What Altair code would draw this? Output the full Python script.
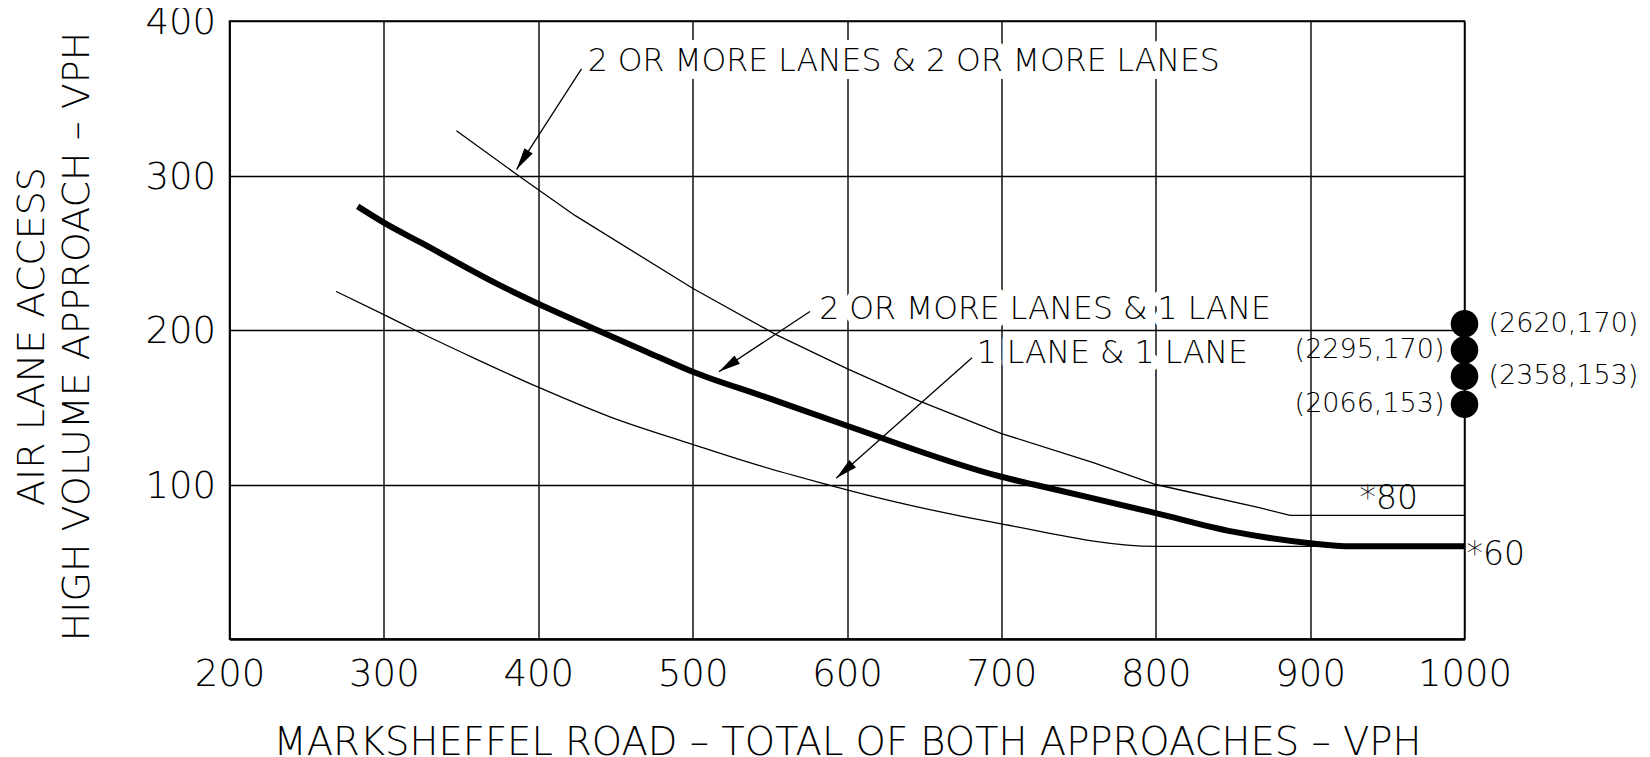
import math
import altair as alt
import pandas as pd

FONT = "DejaVu Sans"
FW = 200

# ---- curves ----
top_x = [347, 387, 424, 500, 554, 600, 647, 700, 760, 800, 867, 887, 1000]
top_y = [329, 300, 274, 227, 197, 175, 154, 133, 114, 100, 85, 80, 80]

mid_x = [283, 300, 325, 373, 400, 438, 470, 500, 546, 600, 700, 721, 800, 850, 900, 926, 1000]
mid_y = [280, 269.5, 256, 230, 217, 200, 186, 173, 157, 138, 105, 100, 81.5, 69.5, 62, 60, 60]

low_x = [269, 300, 320, 358, 400, 446, 500, 544, 587, 600, 700, 800, 1000]
low_y = [225, 210, 200, 182, 163, 144, 126, 112, 100, 96.5, 74.5, 60, 60]

# ---- annotations ----
ann_text = ["2 OR MORE LANES & 2 OR MORE LANES", "2 OR MORE LANES & 1 LANE", "1 LANE & 1 LANE"]
ann_x = [432, 582, 684]
ann_y = [373.5, 213, 184.5]
lead_x = [428, 576, 681]
lead_y = [369, 212, 182]
tip_x = [386, 517, 593]
tip_y = [304, 173, 104]

dot_y = [204, 187, 170, 152]
dot_text = ["(2620,170)", "(2295,170)", "(2358,153)", "(2066,153)"]
dot_side = ["right", "left", "right", "left"]

min_text = ["*80", "*60"]
min_x = [951, 1000]
min_y = [90.5, 54.5]

x_ticks = [200, 300, 400, 500, 600, 700, 800, 900, 1000]
y_ticks = [100, 200, 300, 400]

W, H = 1235, 618
sx = W / 800.0
sy = H / 400.0

top_df = pd.DataFrame({"x": top_x, "y": top_y})
low_df = pd.DataFrame({"x": low_x, "y": low_y})
thick = pd.DataFrame({"x": mid_x, "y": mid_y})

angles = []
for x0, y0, x1, y1 in zip(lead_x, lead_y, tip_x, tip_y):
    dx = (x1 - x0) * sx
    dy = -(y1 - y0) * sy
    angles.append(math.degrees(math.atan2(dx, -dy)) % 360)

ann = pd.DataFrame({"t": ann_text, "x": ann_x, "y": ann_y})
leads = pd.DataFrame({"x": lead_x, "y": lead_y, "x2": tip_x, "y2": tip_y, "ang": angles})
dots = pd.DataFrame({"x": [1000] * 4, "y": dot_y, "t": dot_text, "side": dot_side})
mins = pd.DataFrame({"x": min_x, "y": min_y, "t": min_text})

xs = alt.Scale(domain=[200, 1000], nice=False, zero=False)
ys = alt.Scale(domain=[0, 400], nice=False, zero=False)

x_axis = alt.Axis(
    values=x_ticks, format="d", grid=True, gridColor="black", gridWidth=1.4, gridOpacity=1,
    ticks=False, domain=True, domainColor="black", domainWidth=2.5,
    labelFont=FONT, labelFontSize=37, labelFontWeight=FW, labelColor="black", labelPadding=17,
    labelFlush=False, labelOverlap=False, labelBound=False,
    title="MARKSHEFFEL ROAD – TOTAL OF BOTH APPROACHES – VPH",
    titleFont=FONT, titleFontSize=38.5, titleFontWeight=FW, titleColor="black",
    titleX=W / 2, titleY=115, titleAlign="center", titleBaseline="alphabetic",
)
y_axis = alt.Axis(
    values=y_ticks, format="d", grid=True, gridColor="black", gridWidth=1.4, gridOpacity=1,
    ticks=False, domain=True, domainColor="black", domainWidth=1.5,
    labelFont=FONT, labelFontSize=37, labelFontWeight=FW, labelColor="black", labelPadding=14,
    labelBaseline="middle", labelOffset=1.5, labelFlush=False, labelOverlap=False, labelBound=False,
    title=["AIR LANE ACCESS", "HIGH VOLUME APPROACH – VPH"],
    titleFont=FONT, titleFontSize=38, titleFontWeight=FW, titleColor="black",
    titleAngle=270, titleX=-197, titleY=315, titleAlign="center",
    titleBaseline="middle", titleLineHeight=45,
)

X = alt.X("x:Q", scale=xs, axis=x_axis)
Y = alt.Y("y:Q", scale=ys, axis=y_axis)

halo = alt.Chart(ann).mark_text(
    font=FONT, fontSize=31.5, fontWeight=FW, align="left", baseline="middle",
    stroke="white", strokeWidth=16, strokeOpacity=1, fill="white", fillOpacity=1,
    strokeJoin="round",
).encode(x=X, y=Y, text="t:N")

top_line = alt.Chart(top_df).mark_line(color="black", strokeWidth=1.3, clip=True).encode(
    x=X, y=Y, order="x:Q"
)
low_line = alt.Chart(low_df).mark_line(
    color="black", strokeWidth=1.3, clip=True, interpolate="monotone"
).encode(x=X, y=Y, order="x:Q")
thickline = alt.Chart(thick).mark_line(
    color="black", strokeWidth=6, strokeCap="butt", clip=True, interpolate="monotone"
).encode(x=X, y=Y, order="x:Q")

leader = alt.Chart(leads).mark_rule(color="black", strokeWidth=1.3).encode(
    x=X, y=Y, x2="x2:Q", y2="y2:Q"
)
heads = alt.Chart(leads).mark_point(
    shape="M0,0L-0.45,2L0.45,2Z", filled=True, fill="black", color="black",
    size=484, opacity=1, strokeWidth=0,
).encode(x="x2:Q", y="y2:Q", angle=alt.Angle("ang:Q", scale=None))

ann_txt = alt.Chart(ann).mark_text(
    font=FONT, fontSize=31.5, fontWeight=FW, align="left", baseline="middle", color="black"
).encode(x=X, y=Y, text="t:N")

dot_marks = alt.Chart(dots).mark_circle(size=760, color="black", opacity=1).encode(x=X, y=Y)
dot_r = alt.Chart(dots).transform_filter(alt.datum.side == "right").mark_text(
    font=FONT, fontSize=27, fontWeight=FW, align="left", baseline="middle", dx=24, color="black"
).encode(x=X, y=Y, text="t:N")
dot_l = alt.Chart(dots).transform_filter(alt.datum.side == "left").mark_text(
    font=FONT, fontSize=27, fontWeight=FW, align="right", baseline="middle", dx=-20, color="black"
).encode(x=X, y=Y, text="t:N")

min80 = alt.Chart(mins).transform_filter(alt.datum.t == "*80").mark_text(
    font=FONT, fontSize=33, fontWeight=FW, align="center", baseline="middle", color="black"
).encode(x=X, y=Y, text="t:N")
min60 = alt.Chart(mins).transform_filter(alt.datum.t == "*60").mark_text(
    font=FONT, fontSize=33, fontWeight=FW, align="left", baseline="middle", dx=2, color="black"
).encode(x=X, y=Y, text="t:N")

chart = alt.layer(
    halo, top_line, low_line, thickline, leader, heads, ann_txt,
    dot_marks, dot_r, dot_l, min80, min60
).properties(
    width=W, height=H,
    autosize=alt.AutoSizeParams(type="none"),
    padding={"left": 221.5, "top": 13, "right": 175, "bottom": 118},
    background="white",
).configure_view(stroke="black", strokeWidth=1.5)

chart.save("out.html", embed_options={"renderer": "svg", "actions": False})
